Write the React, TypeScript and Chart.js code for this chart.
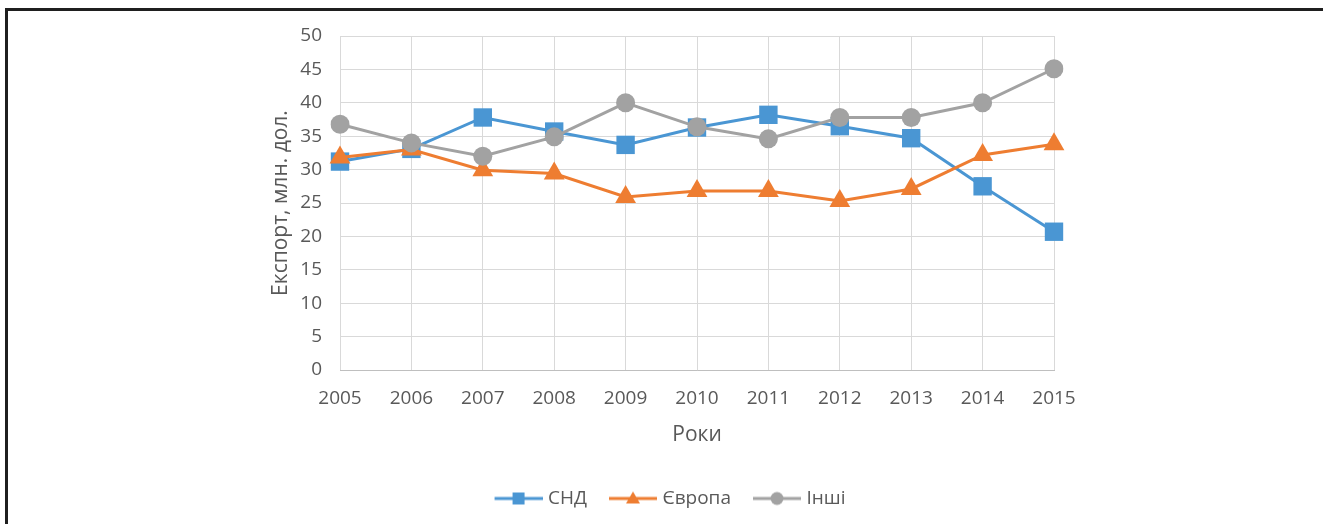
import React, { useEffect, useRef } from 'react';
import { Chart, registerables } from 'chart.js';

Chart.register(...registerables);

const years = ['2005', '2006', '2007', '2008', '2009', '2010', '2011', '2012', '2013', '2014', '2015'];
const cisValues = [31.2, 33.1, 37.8, 35.7, 33.7, 36.3, 38.2, 36.5, 34.7, 27.5, 20.7];
const europeValues = [31.8, 33.0, 29.9, 29.4, 25.9, 26.8, 26.8, 25.3, 27.1, 32.2, 33.8];
const otherValues = [36.8, 34.0, 32.0, 34.9, 40.0, 36.4, 34.6, 37.8, 37.8, 40.0, 45.1];
const seriesNames = ['СНД', 'Європа', 'Інші'];
const yTitle = 'Експорт, млн. дол.';
const xTitle = 'Роки';

const BLUE = '#4A96D3';
const ORANGE = '#EE7D31';
const GREY = '#A2A2A2';
const TEXT = '#595959';
const GRID = '#D9D9D9';
const FONT = "'Open Sans', 'Noto Sans', sans-serif";

function legendIcon(color: string, style: 'rect' | 'triangle' | 'circle'): HTMLCanvasElement {
  const c = document.createElement('canvas');
  c.width = 64;
  c.height = 20;
  const g = c.getContext('2d')!;
  g.strokeStyle = color;
  g.lineWidth = 3;
  g.beginPath();
  g.moveTo(16, 10);
  g.lineTo(64, 10);
  g.stroke();
  g.fillStyle = color;
  g.beginPath();
  const cx = 40;
  if (style === 'rect') {
    g.rect(cx - 6, 4, 12, 12);
  } else if (style === 'triangle') {
    g.moveTo(cx, 3);
    g.lineTo(cx + 7, 15);
    g.lineTo(cx - 7, 15);
    g.closePath();
  } else {
    g.arc(cx, 10, 6.5, 0, Math.PI * 2);
  }
  g.fill();
  return c;
}

const framePlugin = {
  id: 'frame',
  beforeDraw(chart: any) {
    const ctx = chart.ctx;
    ctx.save();
    ctx.fillStyle = '#ffffff';
    ctx.fillRect(0, 0, chart.width, chart.height);
    ctx.strokeStyle = '#1f1f1f';
    ctx.lineWidth = 3;
    ctx.strokeRect(6.5, 9.5, 2000, 1000);
    ctx.restore();
  },
};

export default function App() {
  const ref = useRef<HTMLCanvasElement | null>(null);

  useEffect(() => {
    document.body.style.margin = '0';
    const canvas = ref.current!;
    const icons = [
      legendIcon(BLUE, 'rect'),
      legendIcon(ORANGE, 'triangle'),
      legendIcon(GREY, 'circle'),
    ];
    const chart = new Chart(canvas, {
      type: 'line',
      data: {
        labels: years,
        datasets: [
          {
            label: seriesNames[0],
            data: cisValues,
            borderColor: BLUE,
            backgroundColor: BLUE,
            borderWidth: 3,
            pointStyle: 'rect',
            pointRadius: 13,
            pointBorderWidth: 0,
            order: 2,
          },
          {
            label: seriesNames[1],
            data: europeValues,
            borderColor: ORANGE,
            backgroundColor: ORANGE,
            borderWidth: 3,
            pointStyle: 'triangle',
            pointRadius: 12,
            pointBorderWidth: 0,
            order: 1,
          },
          {
            label: seriesNames[2],
            data: otherValues,
            borderColor: GREY,
            backgroundColor: GREY,
            borderWidth: 3,
            pointStyle: 'circle',
            pointRadius: 9.5,
            pointBorderWidth: 0,
            order: 0,
          },
        ],
      },
      options: {
        responsive: false,
        animation: false,
        devicePixelRatio: 1,
        layout: { padding: { left: 274, right: 269, top: 36, bottom: 6 } },
        plugins: {
          tooltip: { enabled: false },
          legend: {
            position: 'bottom',
            labels: {
              usePointStyle: true,
              pointStyleWidth: 56,
              padding: 10,
              color: TEXT,
              font: { family: FONT, size: 19 },
              generateLabels: (ch: any) =>
                ch.data.datasets.map((ds: any, i: number) => ({
                  text: ds.label,
                  fillStyle: ds.borderColor,
                  strokeStyle: ds.borderColor,
                  lineWidth: 0,
                  pointStyle: icons[i],
                  hidden: false,
                  datasetIndex: i,
                  fontColor: TEXT,
                })),
            },
          },
        },
        scales: {
          x: {
            type: 'category',
            offset: false,
            grid: { color: GRID, drawTicks: false },
            border: { color: '#BFBFBF' },
            ticks: {
              color: TEXT,
              font: { family: FONT, size: 19 },
              padding: 17,
              maxRotation: 0,
              autoSkip: false,
            },
            title: {
              display: true,
              text: xTitle,
              color: TEXT,
              font: { family: FONT, size: 21 },
              padding: { top: 0, bottom: 31 },
            },
            afterFit: (axis: any) => {
              axis.height = 109;
            },
          },
          y: {
            min: 0,
            max: 50,
            grid: { color: GRID, drawTicks: false },
            border: { display: false },
            ticks: {
              stepSize: 5,
              color: TEXT,
              font: { family: FONT, size: 19 },
              padding: 18,
            },
            title: {
              display: true,
              text: yTitle,
              color: TEXT,
              font: { family: FONT, size: 21 },
              padding: { top: -6, bottom: 0 },
            },
            afterFit: (axis: any) => {
              axis.width = 66;
            },
          },
        },
      },
      plugins: [framePlugin],
    });
    return () => chart.destroy();
  }, []);

  return (
    <div style={{ width: 1323, height: 524 }}>
      <canvas ref={ref} width={1323} height={524} style={{ display: 'block' }} />
    </div>
  );
}
